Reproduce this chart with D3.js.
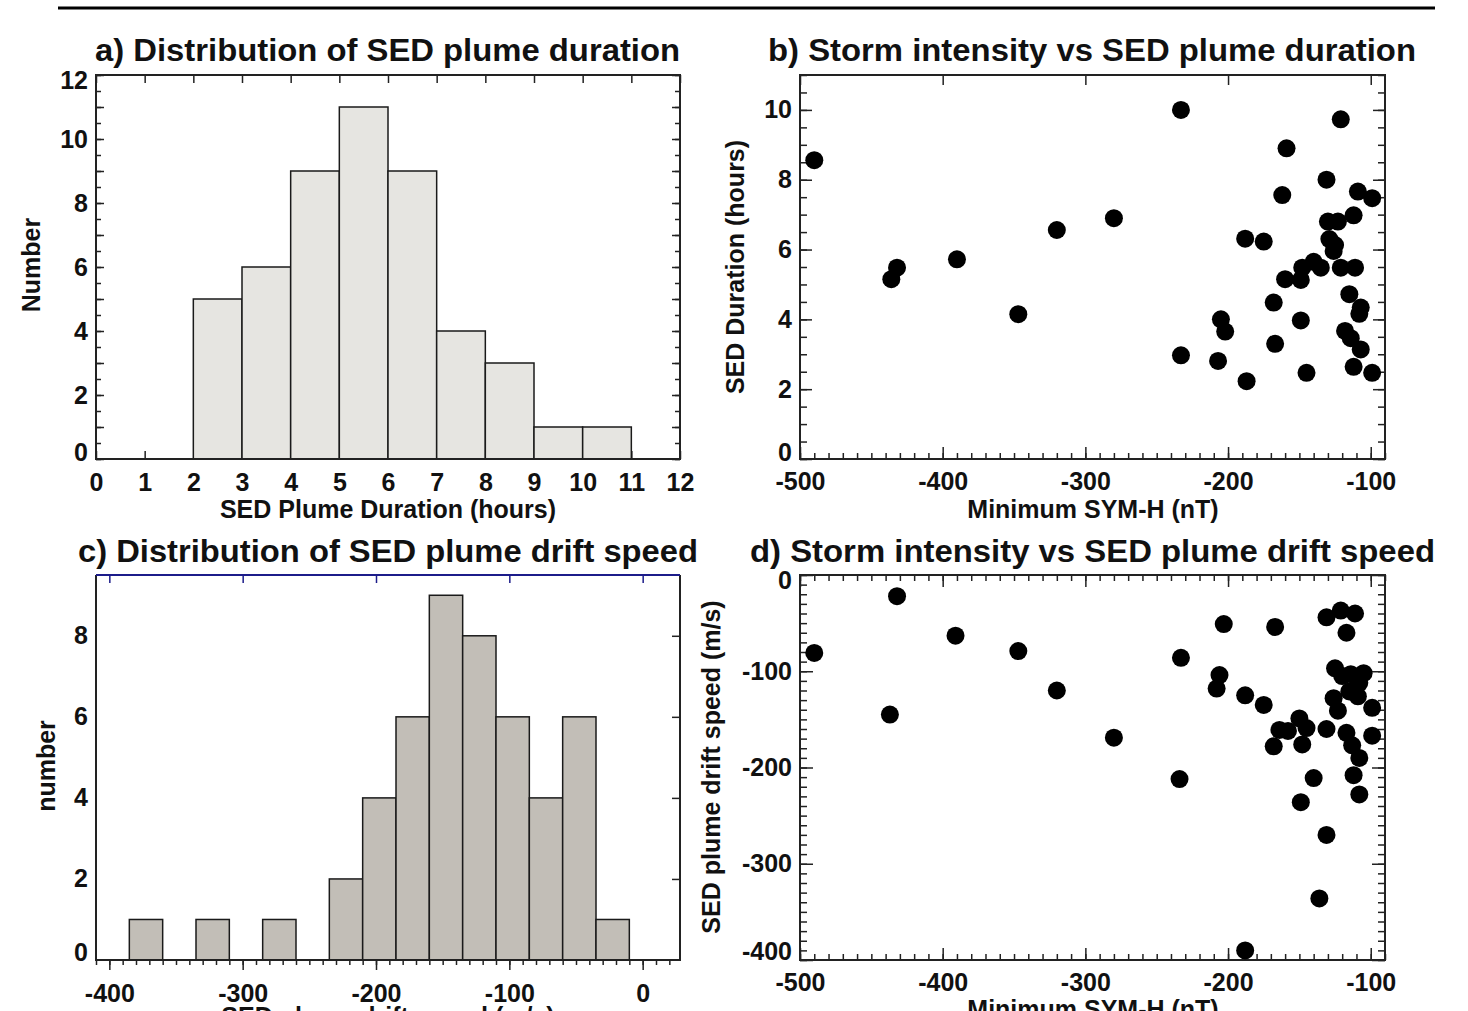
<!DOCTYPE html>
<html>
<head>
<meta charset="utf-8">
<script src="https://cdn.jsdelivr.net/npm/d3@7"></script>
<style>
  body { margin: 0; background: #fff; }
  svg text { font-family: "Liberation Sans", Arial, Helvetica, sans-serif; font-weight: bold; fill: #111; }
</style>
</head>
<body>
<div id="chart"></div>
<script>
// ---- data ----
// a) histogram of plume duration (hours), 1 h bins
const durEdges  = [0, 1, 2, 3, 4, 5, 6, 7, 8, 9, 10, 11, 12];
const durCounts = [0, 0, 5, 6, 9, 11, 9, 4, 3, 1, 1, 0];

// c) histogram of plume drift speed (m/s), 25 m/s bins
const speedEdges  = [-385, -360, -335, -310, -285, -260, -235, -210, -185, -160, -135, -110, -85, -60, -35, -10];
const speedCounts = [1, 0, 1, 0, 1, 0, 2, 4, 6, 9, 8, 6, 4, 6, 1];

// b) min SYM-H (nT) vs duration (hours)
const durSymH  = [-490, -436, -432, -390, -347, -320, -280, -233, -121, -159, -131, -162, -109, -99, -112, -130,
                  -123, -188, -175, -129, -125, -126, -140, -148, -135, -121, -111, -160, -149, -115, -107, -108,
                  -168, -205, -202, -149, -118, -114, -107, -167, -233, -207, -187, -145, -112, -99];
const durHours = [8.56, 5.15, 5.48, 5.72, 4.15, 6.56, 6.9, 10.0, 9.73, 8.9, 8.0, 7.56, 7.66, 7.47, 6.98, 6.8,
                  6.8, 6.31, 6.23, 6.3, 6.13, 5.96, 5.65, 5.48, 5.48, 5.48, 5.48, 5.15, 5.13, 4.72, 4.34, 4.16,
                  4.48, 4.0, 3.65, 3.97, 3.67, 3.46, 3.14, 3.3, 2.97, 2.81, 2.23, 2.47, 2.64, 2.47];

// d) min SYM-H (nT) vs drift speed (m/s)
const speedSymH = [-490, -432, -437, -391, -347, -320, -280, -203, -167, -233, -131, -121, -111, -117, -206, -208,
                   -188, -175, -125, -114, -105, -120, -108, -115, -109, -126, -123, -99, -164, -158, -150, -145,
                   -131, -168, -148, -117, -113, -108, -99, -234, -140, -112, -149, -108, -131, -136, -188];
const speedVals = [-81, -22, -145, -63, -79, -120, -169, -51, -54, -86, -44, -37, -40, -60, -104, -118,
                   -125, -135, -97, -103, -102, -105, -112, -121, -126, -128, -141, -138, -161, -162, -149, -159,
                   -160, -178, -176, -164, -177, -190, -167, -212, -211, -208, -236, -228, -270, -336, -390];

const panelTitles = [
  "a) Distribution of SED plume duration",
  "b) Storm intensity vs SED plume duration",
  "c) Distribution of SED plume drift speed",
  "d) Storm intensity vs SED plume drift speed"
];

const W = 1468, H = 1011;
const FONT = '"Liberation Sans", Arial, Helvetica, sans-serif';

const svg = d3.select('#chart').append('svg')
  .attr('width', W).attr('height', H)
  .attr('viewBox', [0, 0, W, H]);

// rule across the top of the page
svg.append('line').attr('x1', 58).attr('x2', 1435).attr('y1', 8).attr('y2', 8)
  .attr('stroke', '#000').attr('stroke-width', 3);

// one set of ticks on one side of a frame
function ticks(axisFn, scale, values, size, at, opts = {}) {
  const ax = axisFn(scale).tickValues(values).tickSize(size).tickSizeOuter(0)
    .tickPadding(opts.pad ?? 8)
    .tickFormat(opts.fmt || (() => ''));
  const g = svg.append('g').attr('transform', at).call(ax)
    .attr('font-size', 25).attr('font-family', FONT).attr('font-weight', 'bold');
  g.select('.domain').remove();
  g.selectAll('line').attr('stroke', opts.color || '#222').attr('stroke-width', 1.5);
  g.selectAll('text').attr('fill', '#111');
  // end labels nudged inward, as in the original plot
  if (opts.shift) {
    g.selectAll('.tick').filter(d => d in opts.shift)
      .select('text').attr('y', d => opts.shift[d]);
  }
  return g;
}

function frame(p, color) {
  svg.append('rect').attr('x', p.x0).attr('y', p.y0)
    .attr('width', p.x1 - p.x0).attr('height', p.y1 - p.y0)
    .attr('fill', 'none').attr('stroke', color || '#222').attr('stroke-width', 2);
}

function label(text, x, y, rotate, opts = {}) {
  const t = svg.append('text')
    .attr('transform', `translate(${x},${y})` + (rotate ? ' rotate(-90)' : ''))
    .attr('text-anchor', opts.anchor || 'middle')
    .attr('font-size', opts.size || 25)
    .text(text);
  if (opts.len) t.attr('textLength', opts.len).attr('lengthAdjust', 'spacingAndGlyphs');
  return t;
}

const fmt = d => String(d);   // plain hyphen minus, like the original
const range = (a, b, s) => d3.range(a, b + s / 2, s);

// ---------- a) duration histogram ----------
{
  const p = { x0: 96, x1: 680, y0: 75, y1: 459 };
  const x = d3.scaleLinear().domain([0, 12]).range([p.x0, p.x1]);
  const y = d3.scaleLinear().domain([0, 12]).range([p.y1, p.y0]);

  ticks(d3.axisBottom, x, range(0, 12, 1), -8, `translate(0,${p.y1})`, { fmt, pad: 14 });
  ticks(d3.axisTop, x, range(0, 12, 1), -8, `translate(0,${p.y0})`);
  ticks(d3.axisLeft, y, range(0, 12, 0.5), -5, `translate(${p.x0},0)`);
  ticks(d3.axisLeft, y, range(0, 12, 1), -8, `translate(${p.x0},0)`);
  ticks(d3.axisLeft, y, range(0, 12, 2), 0, `translate(${p.x0},0)`, { fmt, pad: 8, shift: { 0: -7, 12: 5 } });
  ticks(d3.axisRight, y, range(0, 12, 0.5), -5, `translate(${p.x1},0)`);
  ticks(d3.axisRight, y, range(0, 12, 1), -8, `translate(${p.x1},0)`);

  const bins = durCounts.map((c, i) => ({ a: durEdges[i], b: durEdges[i + 1], c })).filter(d => d.c > 0);
  svg.append('g').selectAll('rect').data(bins).join('rect')
    .attr('x', d => x(d.a)).attr('width', d => x(d.b) - x(d.a))
    .attr('y', d => y(d.c)).attr('height', d => y(0) - y(d.c))
    .attr('fill', '#e6e5e1').attr('stroke', '#1a1a1a').attr('stroke-width', 1.5);

  frame(p);
  label(panelTitles[0], 95, 61, false, { anchor: 'start', size: 32, len: 585 });
  label('SED Plume Duration (hours)', 388, 518);
  label('Number', 40, 265, true);
}

// ---------- b) SYM-H vs duration ----------
{
  const p = { x0: 800, x1: 1385, y0: 75, y1: 459 };
  const x = d3.scaleLinear().domain([-500, -90]).range([p.x0, p.x1]);
  const y = d3.scaleLinear().domain([0, 11]).range([p.y1, p.y0]);

  ticks(d3.axisBottom, x, range(-500, -90, 10), -6, `translate(0,${p.y1})`);
  ticks(d3.axisBottom, x, range(-500, -100, 100), -12, `translate(0,${p.y1})`, { fmt, pad: 13 });
  ticks(d3.axisTop, x, range(-500, -100, 100), -10, `translate(0,${p.y0})`);
  ticks(d3.axisLeft, y, range(0, 11, 0.5), -7, `translate(${p.x0},0)`);
  ticks(d3.axisLeft, y, range(0, 10, 2), -12, `translate(${p.x0},0)`, { fmt, pad: 8, shift: { 0: -7 } });
  ticks(d3.axisRight, y, range(0, 11, 0.5), -7, `translate(${p.x1},0)`);
  ticks(d3.axisRight, y, range(0, 10, 2), -12, `translate(${p.x1},0)`);

  frame(p);
  svg.append('g').selectAll('circle').data(durSymH).join('circle')
    .attr('cx', d => x(d)).attr('cy', (d, i) => y(durHours[i])).attr('r', 9).attr('fill', '#000');

  label(panelTitles[1], 768, 61, false, { anchor: 'start', size: 32, len: 648 });
  label('Minimum SYM-H (nT)', 1093, 518);
  label('SED Duration (hours)', 744, 267, true);
}

// ---------- c) drift speed histogram ----------
{
  const p = { x0: 96, x1: 680, y0: 575, y1: 960 };
  const x = d3.scaleLinear().domain([-410, 28]).range([p.x0, p.x1]);
  const y = d3.scaleLinear().domain([0, 9.5]).range([p.y1, p.y0]);

  const bins = speedCounts.map((c, i) => ({ a: speedEdges[i], b: speedEdges[i + 1], c })).filter(d => d.c > 0);
  svg.append('g').selectAll('rect').data(bins).join('rect')
    .attr('x', d => x(d.a)).attr('width', d => x(d.b) - x(d.a))
    .attr('y', d => y(d.c)).attr('height', d => y(0) - y(d.c))
    .attr('fill', '#c2beb7').attr('stroke', '#1a1a1a').attr('stroke-width', 1.5);

  ticks(d3.axisBottom, x, range(-410, 20, 10), 5, `translate(0,${p.y1})`);
  ticks(d3.axisBottom, x, range(-400, 0, 100), 10, `translate(0,${p.y1})`, { fmt, pad: 14 });
  ticks(d3.axisTop, x, range(-400, 0, 100), -8, `translate(0,${p.y0})`, { color: '#1c1c8a' });
  ticks(d3.axisLeft, y, range(0, 8, 2), 0, `translate(${p.x0},0)`, { fmt, pad: 8, shift: { 0: -8 } });
  ticks(d3.axisRight, y, range(2, 8, 2), -8, `translate(${p.x1},0)`);

  // frame: navy on top, dark elsewhere
  svg.append('path')
    .attr('d', `M${p.x0},${p.y0}V${p.y1}H${p.x1}V${p.y0}`)
    .attr('fill', 'none').attr('stroke', '#222').attr('stroke-width', 2);
  svg.append('line').attr('x1', p.x0).attr('x2', p.x1).attr('y1', p.y0).attr('y2', p.y0)
    .attr('stroke', '#1c1c8a').attr('stroke-width', 2);

  label(panelTitles[2], 78, 562, false, { anchor: 'start', size: 32, len: 620 });
  label('SED plume drift speed (m/s)', 388, 1025);
  label('number', 55, 766, true);
}

// ---------- d) SYM-H vs drift speed ----------
{
  const p = { x0: 800, x1: 1385, y0: 575, y1: 960 };
  const x = d3.scaleLinear().domain([-500, -90]).range([p.x0, p.x1]);
  const y = d3.scaleLinear().domain([-400, 0]).range([p.y1, p.y0]);

  ticks(d3.axisBottom, x, range(-500, -90, 10), -6, `translate(0,${p.y1})`);
  ticks(d3.axisBottom, x, range(-500, -100, 100), -12, `translate(0,${p.y1})`, { fmt, pad: 13 });
  ticks(d3.axisTop, x, range(-500, -90, 10), -6, `translate(0,${p.y0})`);
  ticks(d3.axisTop, x, range(-500, -100, 100), -12, `translate(0,${p.y0})`);
  ticks(d3.axisLeft, y, range(-400, 0, 10), -7, `translate(${p.x0},0)`);
  ticks(d3.axisLeft, y, range(-400, 0, 100), -13, `translate(${p.x0},0)`, { fmt, pad: 8, shift: { 0: 5, '-400': -9 } });
  ticks(d3.axisRight, y, range(-400, 0, 10), -7, `translate(${p.x1},0)`);
  ticks(d3.axisRight, y, range(-400, 0, 100), -13, `translate(${p.x1},0)`);

  frame(p);
  svg.append('g').selectAll('circle').data(speedSymH).join('circle')
    .attr('cx', d => x(d)).attr('cy', (d, i) => y(speedVals[i])).attr('r', 9).attr('fill', '#000');

  label(panelTitles[3], 750, 562, false, { anchor: 'start', size: 32, len: 685 });
  label('Minimum SYM-H (nT)', 1093, 1018);
  label('SED plume drift speed (m/s)', 720, 767, true);
}
</script>
</body>
</html>
